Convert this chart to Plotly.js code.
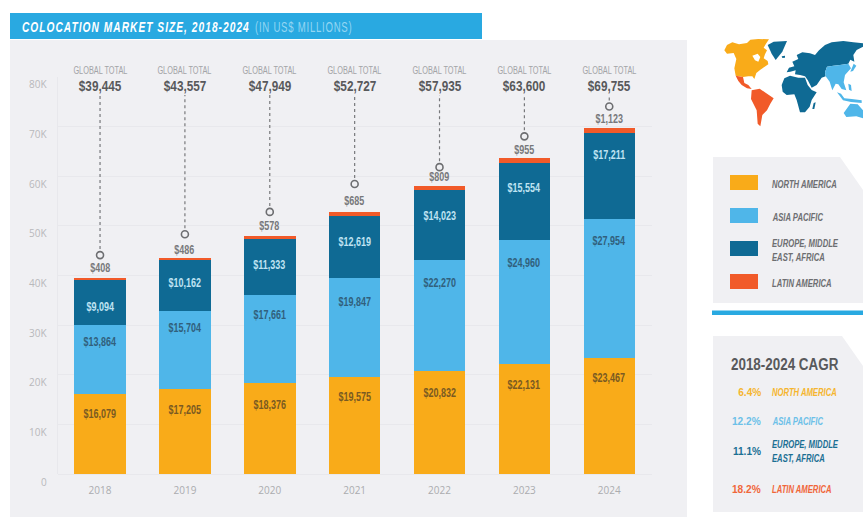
<!DOCTYPE html>
<html>
<head>
<meta charset="utf-8">
<script src="https://cdn.plot.ly/plotly-3.0.1.min.js"></script>
<style>
  html, body { margin: 0; padding: 0; background: #fff; }
  #chart { width: 863px; height: 517px; }
  .annotation[data-index="0"] text { letter-spacing: 1.6px; }
  .annotation[data-index="1"] text { letter-spacing: 1.2px; }
</style>
</head>
<body>
<div id="chart"></div>
<script>
// Colocation market size by region, US$ millions
const years = ['2018', '2019', '2020', '2021', '2022', '2023', '2024'];
const northAmerica = [16079, 17205, 18376, 19575, 20832, 22131, 23467];
const asiaPacific = [13864, 15704, 17661, 19847, 22270, 24960, 27954];
const emea = [9094, 10162, 11333, 12619, 14023, 15554, 17211];
const latinAmerica = [408, 486, 578, 685, 809, 955, 1123];
const globalTotals = [39445, 43557, 47949, 52727, 57935, 63600, 69755];
const leaderEnds = [44100, 48300, 52800, 58400, 61800, 68000, 74000];
const leaderTop = 76300;

const yTickValues = [0, 10000, 20000, 30000, 40000, 50000, 60000, 70000, 80000];
const yTickLabels = ['0', '10K', '20K', '30K', '40K', '50K', '60K', '70K', '80K'];

const regionNames = ['NORTH AMERICA', 'ASIA PACIFIC', 'EUROPE, MIDDLE<br>EAST, AFRICA', 'LATIN AMERICA'];
const cagrValues = ['6.4%', '12.2%', '11.1%', '18.2%'];

const COLORS = { na: '#F9AB19', ap: '#4FB6E9', emea: '#0F6A94', la: '#F15A29' };
const CAGR_COLORS = ['#F5B52E', '#6CC0E8', '#1B6F93', '#F0663A'];
const SANS = '"Liberation Sans", sans-serif';
const PANEL = '#F0F0F3';
const W = 863, H = 517;

// Pixel helpers for everything placed on the page rather than on the axes
const px = x => x / W;
const py = y => 1 - y / H;

function polygon(points, fill) {
  const d = 'M' + points.map(p => px(p[0]) + ',' + py(p[1])).join(' L') + ' Z';
  return { type: 'path', xref: 'paper', yref: 'paper', path: d, fillcolor: fill, line: { width: 0 }, layer: 'below' };
}
function rect(x0, y0, x1, y1, fill) {
  return polygon([[x0, y0], [x1, y0], [x1, y1], [x0, y1]], fill);
}
// `squeeze` is the horizontal scale applied afterwards to get the condensed headline look
function label(text, x, y, size, color, squeeze, anchor) {
  return {
    text, xref: 'paper', yref: 'paper', x: px(x), y: py(y), showarrow: false,
    xanchor: anchor || 'left', yanchor: 'middle', align: anchor || 'left',
    font: { family: SANS, size, color }, squeeze
  };
}

// Stacked tops, used to seat the value labels
const topNA = northAmerica.slice();
const topAP = topNA.map((v, i) => v + asiaPacific[i]);
const topEM = topAP.map((v, i) => v + emea[i]);
const topLA = topEM.map((v, i) => v + latinAmerica[i]);

// Pixel distance of each value label from the top of its segment
const dropNA = [20, 21, 22, 20, 22, 21, 20];
const dropAP = [17, 17, 20, 24, 23, 23, 22];
const dropEM = [27, 23, 26, 26, 26, 25, 22];
const riseLA = [10, 8, 10, 11, 9, 8, 9];

const money = v => '$' + v.toLocaleString('en-US');

// Annotations address a category axis by index, since the years look numeric
function segmentLabels(values, tops, shifts, color, sign) {
  return values.map((v, i) => ({
    text: '<b>' + money(v) + '</b>', x: i, y: tops[i], xref: 'x', yref: 'y',
    yshift: sign * shifts[i], showarrow: false, xanchor: 'center', yanchor: 'middle',
    font: { family: SANS, size: 12, color }, squeeze: 0.75
  }));
}

const bar = (name, y, color) => ({
  type: 'bar', name, x: years, y, marker: { color, line: { width: 0 } }, showlegend: false
});

const leaderX = [], leaderY = [];
years.forEach((yr, i) => {
  leaderX.push(yr, yr, null);
  leaderY.push(leaderEnds[i], leaderTop, null);
});

const traces = [
  bar('North America', northAmerica, COLORS.na),
  bar('Asia Pacific', asiaPacific, COLORS.ap),
  bar('Europe, Middle East, Africa', emea, COLORS.emea),
  bar('Latin America', latinAmerica, COLORS.la),
  {
    type: 'scatter', mode: 'lines', x: leaderX, y: leaderY, hoverinfo: 'skip', showlegend: false,
    line: { color: '#77787B', width: 1.2, dash: 'dot' }
  },
  {
    type: 'scatter', mode: 'markers', x: years, y: leaderEnds, hoverinfo: 'skip', showlegend: false,
    marker: { symbol: 'circle', size: 7, color: PANEL, line: { color: '#6D6E71', width: 1.6 } }
  }
];

// Rough continent outlines for the region key map
const m = pts => pts.map(p => [715 + p[0] / 3, 35 + p[1] / 3]);
const mapShapes = [
  // North America with the Arctic islands, Hudson Bay cut out afterwards
  polygon(m([[28,46],[36,30],[52,22],[72,28],[96,24],[106,14],[130,12],[162,13],[152,28],[146,38],[156,46],[150,58],[146,70],[158,78],[160,88],[148,96],[136,104],[124,114],[118,132],[112,124],[100,124],[84,126],[62,122],[58,100],[64,72],[56,54],[36,56]]), COLORS.na),
  polygon(m([[112,62],[128,56],[136,66],[130,80],[120,76]]), '#FFFFFF'),
  // Mexico and Central America
  polygon(m([[62,122],[84,126],[88,144],[100,150],[110,162],[96,160],[80,150],[70,138]]), COLORS.la),
  // South America
  polygon(m([[110,166],[134,161],[154,175],[176,190],[166,206],[156,226],[142,240],[136,274],[128,266],[125,226],[108,192]]), COLORS.la),
  // Greenland and Iceland
  polygon(m([[158,30],[176,20],[216,18],[202,50],[182,75],[170,56]]), COLORS.emea),
  polygon(m([[200,64],[210,62],[210,68],[202,69]]), COLORS.emea),
  // Europe, Russia and the Middle East
  polygon(m([[215,112],[222,98],[238,94],[232,80],[250,72],[245,60],[262,52],[285,55],[300,60],[312,46],[330,30],[350,22],[385,18],[415,22],[444,25],[444,35],[425,45],[415,60],[418,80],[406,74],[400,86],[375,90],[355,92],[336,95],[330,112],[332,124],[320,128],[305,150],[290,158],[278,135],[270,124],[255,120],[240,118],[242,106],[226,110]]), COLORS.emea),
  // Africa and Madagascar
  polygon(m([[200,150],[208,130],[225,122],[250,128],[270,128],[278,150],[290,165],[305,172],[290,195],[284,215],[270,232],[255,232],[245,195],[238,178],[215,180],[203,170]]), COLORS.emea),
  polygon(m([[296,204],[302,202],[298,222],[292,222]]), COLORS.emea),
  // South and East Asia
  polygon(m([[336,95],[355,92],[375,90],[400,86],[408,100],[390,120],[386,142],[394,166],[380,162],[370,148],[362,146],[352,166],[344,140],[332,124],[330,112]]), COLORS.ap),
  polygon(m([[416,86],[424,92],[414,108],[406,110]]), COLORS.ap),
  polygon(m([[400,146],[408,150],[410,168],[402,164]]), COLORS.ap),
  polygon(m([[366,172],[378,176],[388,190],[410,192],[440,196],[440,204],[408,201],[384,196]]), COLORS.ap),
  // Australia
  polygon(m([[386,234],[406,206],[428,208],[444,226],[444,250],[424,244],[394,246]]), COLORS.ap)
];

const legendY = [182.5, 215.5, 248.5, 281.5];
const legendTextY = [184, 217, 250, 283];
const cagrY = [392, 421, 451, 489];

const shapes = [
  rect(10, 40, 687, 517, PANEL),
  rect(10, 13, 482, 39, '#29A9E1'),
  polygon([[713, 157], [840, 157], [863, 190], [863, 303], [713, 303]], PANEL),
  rect(712, 310.5, 863, 315, '#29A9E1'),
  polygon([[713, 336], [842, 336], [863, 366], [863, 512], [713, 512]], PANEL),
  ...mapShapes,
  ...[COLORS.na, COLORS.ap, COLORS.emea, COLORS.la].map((c, i) => rect(730, legendY[i] - 7.5, 758, legendY[i] + 7.5, c))
];

const annotations = [
  label('<b><i>COLOCATION MARKET SIZE, 2018-2024</i></b>', 20, 26.5, 15.5, '#FFFFFF', 0.655),
  label('(IN US$ MILLIONS)', 253, 26.5, 15.5, '#93D6F3', 0.62),
  ...years.map((yr, i) => ({
    text: 'GLOBAL TOTAL', x: i, xref: 'x', y: py(70), yref: 'paper', showarrow: false,
    xanchor: 'center', yanchor: 'middle', font: { family: SANS, size: 11.5, color: '#A3A4A7' }, squeeze: 0.64
  })),
  ...globalTotals.map((v, i) => ({
    text: '<b>' + money(v) + '</b>', x: i, xref: 'x', y: py(85), yref: 'paper', showarrow: false,
    xanchor: 'center', yanchor: 'middle', font: { family: SANS, size: 15.5, color: '#58595B' }, squeeze: 0.76
  })),
  ...segmentLabels(northAmerica, topNA, dropNA, '#7A5A22', -1),
  ...segmentLabels(asiaPacific, topAP, dropAP, '#31607C', -1),
  ...segmentLabels(emea, topEM, dropEM, '#BFE3F2', -1),
  ...segmentLabels(latinAmerica, topLA, riseLA, '#77787B', 1),
  ...regionNames.map((n, i) => label('<b><i>' + n + '</i></b>', 770, legendTextY[i], 10.5, '#6D6E71', 0.73)),
  label('<b>2018-2024 CAGR</b>', 729, 364, 17, '#58595B', 0.79),
  ...cagrValues.map((c, i) => label('<b>' + c + '</b>', 763, cagrY[i], 11.5, CAGR_COLORS[i], 0.88, 'right')),
  ...regionNames.map((n, i) => label('<b><i>' + n + '</i></b>', 770, cagrY[i], 10.5, CAGR_COLORS[i], 0.73))
];
const squeezes = annotations.map(a => a.squeeze);

const layout = {
  width: W, height: H,
  margin: { l: 0, r: 0, t: 0, b: 0, pad: 0 },
  paper_bgcolor: '#FFFFFF', plot_bgcolor: 'rgba(0,0,0,0)',
  barmode: 'stack', bargap: 0.393, showlegend: false,
  xaxis: {
    type: 'category', domain: [57.6 / W, 651.7 / W], range: [-0.5, 6.5],
    showgrid: false, zeroline: false, ticks: '', showline: false,
    ticklabelstandoff: 9,
    tickfont: { family: '"Open Sans", sans-serif', size: 10, color: '#ABACAF' }
  },
  yaxis: {
    domain: [1 - 474.3 / H, 1 - 76.7 / H],
    range: [0, 80000], tickmode: 'array', tickvals: yTickValues, ticktext: yTickLabels,
    gridcolor: '#E8E8EC', gridwidth: 1, zeroline: true, zerolinecolor: '#E8E8EC',
    showline: true, linecolor: '#E8E8EC', ticks: '', ticklabelstandoff: 8, ticklabelshift: 8,
    tickfont: { family: '"Open Sans", sans-serif', size: 10, color: '#B8B8BB' }
  },
  shapes, annotations, hovermode: false
};

Plotly.newPlot('chart', traces, layout, { displayModeBar: false, staticPlot: true }).then(gd => {
  // Narrow each label about its own anchor edge
  gd.querySelectorAll('.annotation').forEach(node => {
    const i = +node.getAttribute('data-index');
    const text = node.querySelector('text');
    const a = annotations[i];
    text.style.transformBox = 'fill-box';
    text.style.transformOrigin = (a.xanchor === 'left' ? 'left' : a.xanchor === 'right' ? 'right' : 'center') + ' center';
    text.style.transform = 'scaleX(' + squeezes[i] + ')';
  });
});
</script>
</body>
</html>
